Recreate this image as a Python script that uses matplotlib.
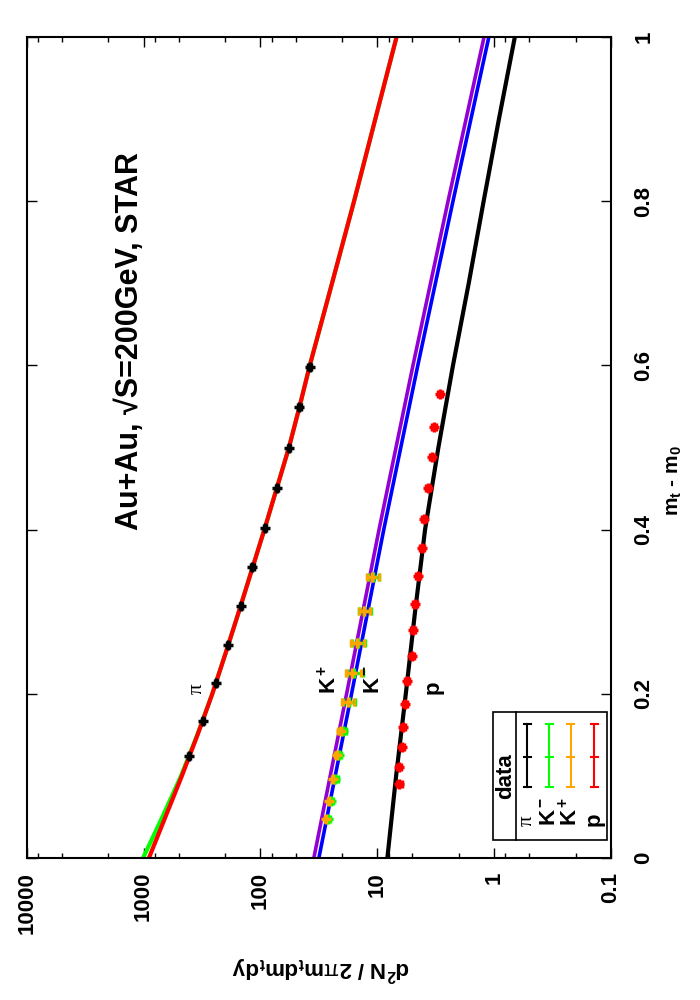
import matplotlib.pyplot as plt
from matplotlib.ticker import LogLocator, NullFormatter, FixedLocator
from matplotlib.lines import Line2D
from matplotlib.patches import Rectangle

plt.rcParams['font.family'] = ['Liberation Sans', 'DejaVu Sans']
plt.rcParams['mathtext.fontset'] = 'custom'
plt.rcParams['mathtext.rm'] = 'Liberation Sans'
plt.rcParams['mathtext.bf'] = 'Liberation Sans:bold'
plt.rcParams['mathtext.it'] = 'Liberation Sans:italic'

# Au+Au 200 GeV STAR spectra, m_t - m_0 (GeV) vs d2N/2pi mt dmt dy
# pion data
pi_m = [0.124, 0.167, 0.213, 0.259, 0.307, 0.354, 0.402, 0.451, 0.500, 0.549, 0.598]
pi_val = [409, 308, 240, 188, 148, 117, 91.5, 72.3, 57.0, 46.4, 37.8]
pi_err = [8, 6, 5, 4, 3, 2.5, 2, 1.6, 1.3, 1.1, 1.0]

# kaon data
k_m = [0.047, 0.070, 0.096, 0.125, 0.155, 0.190, 0.225, 0.262, 0.301, 0.342]
kp_val = [27.2, 25.8, 23.8, 22.3, 20.6, 17.9, 16.3, 14.9, 13.0, 11.0]
kp_err = [0.8, 0.8, 0.7, 0.7, 1.0, 2.1, 2.4, 2.0, 1.4, 1.3]
km_val = [26.5, 25.0, 22.8, 21.4, 19.8, 17.5, 15.8, 14.7, 12.9, 10.9]
km_err = [1.0, 1.0, 1.0, 1.0, 1.2, 2.0, 2.5, 1.9, 1.5, 1.2]

# proton data
p_m = [0.090, 0.111, 0.135, 0.160, 0.187, 0.216, 0.246, 0.278, 0.309, 0.344,
       0.377, 0.413, 0.451, 0.488, 0.525, 0.565]
p_val = [6.50, 6.53, 6.19, 6.00, 5.81, 5.55, 5.09, 4.96, 4.74, 4.47,
         4.18, 3.97, 3.69, 3.39, 3.26, 2.92]
p_err = [0.3, 0.3, 0.25, 0.25, 0.2, 0.2, 0.2, 0.2, 0.2, 0.18,
         0.17, 0.16, 0.15, 0.14, 0.14, 0.13]

# model curves
pi_curve_m = [0, 0.05, 0.1, 0.15, 0.2, 0.25, 0.3, 0.35, 0.4, 0.45, 0.5, 0.55, 0.6, 0.7, 0.8, 0.9, 1.0]
pi_curve_red = [900, 650, 470, 345, 258, 198, 153, 119, 92.5, 72.6, 57.0, 46.2, 37.8, 24.4, 15.8, 10.4, 6.84]
pi_curve_green = [1010, 690, 478, 347, 258, 198, 153, 119, 92.5, 72.6, 57.0, 46.2, 37.8, 24.4, 15.8, 10.4, 6.84]

k_curve_m = [0, 0.2, 0.4, 0.6, 0.8, 1.0]
kp_curve = [34.9, 18.3, 9.66, 4.95, 2.48, 1.22]
km_curve = [31.6, 16.6, 8.8, 4.5, 2.25, 1.11]

p_curve_m = [0, 0.1, 0.2, 0.3, 0.4, 0.5, 0.6, 0.7, 0.8, 0.9, 1.0]
p_curve = [8.2, 6.9, 5.7, 4.75, 3.9, 3.0, 2.25, 1.65, 1.23, 0.91, 0.665]

val_ticks = [10000, 1000, 100, 10, 1, 0.1]
val_labels = ['10000', '1000', '100', '10', '1', '0.1']
m_ticks = [0, 0.2, 0.4, 0.6, 0.8, 1.0]
m_labels = ['0', '0.2', '0.4', '0.6', '0.8', '1']

W, H = 700, 1000


def fp(x, y):
    # pixel position -> figure fraction
    return x / W, 1 - y / H


fig = plt.figure(figsize=(7, 10), dpi=100)
ax = fig.add_axes([26.7 / W, 1 - 858 / H, (611 - 26.7) / W, (858 - 37) / H])

# the whole gnuplot graph is turned on its side: value axis horizontal, m_t vertical
ax.plot(pi_curve_green, pi_curve_m, color='#00ff00', lw=3, zorder=2)
ax.plot(pi_curve_red, pi_curve_m, color='#ff0000', lw=3, zorder=2)
ax.plot(kp_curve, k_curve_m, color='#9400d3', lw=2.6, zorder=2)
ax.plot(km_curve, k_curve_m, color='#0000ff', lw=2.6, zorder=2)
ax.plot(p_curve, p_curve_m, color='black', lw=3, zorder=2)

ebkw = dict(fmt='+', ms=7, mew=2.5, elinewidth=2, capsize=3, capthick=2, zorder=3)
ax.errorbar(pi_val, pi_m, xerr=pi_err, color='black', **ebkw)
ax.errorbar(km_val, k_m, xerr=km_err, color='#00ff00', **ebkw)
ax.errorbar(kp_val, k_m, xerr=kp_err, color='#ffa500', **ebkw)
ax.errorbar(p_val, p_m, xerr=p_err, color='#ff0000', **ebkw)

ax.set_xscale('log')
ax.set_xlim(1e4, 0.1)
ax.set_ylim(0, 1)

ax.xaxis.set_major_locator(FixedLocator(val_ticks))
ax.set_xticklabels(val_labels)
ax.xaxis.set_minor_locator(LogLocator(base=10, subs=(2, 5, 8)))
ax.xaxis.set_minor_formatter(NullFormatter())
ax.set_yticks(m_ticks)
ax.set_yticklabels(m_labels)

ax.tick_params(axis='x', which='major', direction='in', top=True, bottom=True,
               length=7, width=1, labelrotation=90, labelsize=16, pad=10)
ax.tick_params(axis='x', which='minor', direction='in', top=True, bottom=True,
               length=3.5, width=1)
ax.tick_params(axis='y', which='major', direction='in', left=True, right=True,
               labelleft=False, labelright=True, length=7, width=1,
               labelrotation=90, labelsize=16, pad=16)
for lbl in ax.get_xticklabels() + ax.get_yticklabels():
    lbl.set_fontweight('bold')
for lbl in ax.get_yticklabels():
    lbl.set_va('center')
for s in ax.spines.values():
    s.set_linewidth(1.5)

# labels in the plot
ax.text(1300, 0.4, 'Au+Au, \u221aS=200GeV, STAR', rotation=90, ha='center',
        va='bottom', fontsize=22, fontweight='bold')
ax.text(350, 0.2, '\u03c0', rotation=90, ha='center', va='bottom', fontsize=15,
        family='Liberation Serif')
ax.text(25.5, 0.2, r'$\mathbf{K^+}$', rotation=90, ha='center', va='bottom', fontsize=16)
ax.text(10.8, 0.2, r'$\mathbf{K^-}$', rotation=90, ha='center', va='bottom', fontsize=16)
ax.text(3.3, 0.2, 'p', rotation=90, ha='center', va='bottom', fontsize=16,
        fontweight='bold')

# axis titles
fig.text(*fp(674, 480), r'$\mathbf{m_t}$ - $\mathbf{m_0}$', rotation=90, ha='center',
         va='center', fontsize=15, fontweight='bold')
fig.text(*fp(321, 968), r'$\mathbf{d^2N\ /\ 2}\mathrm{\pi}\mathbf{m_tdm_tdy}$',
         rotation=180, ha='center', va='center', fontsize=16)

# key, drawn by hand because it is rotated too
x0, y0 = fp(493.3, 840)
x1, y1 = fp(606.7, 711.7)
fig.add_artist(Rectangle((x0, y0), x1 - x0, y1 - y0, transform=fig.transFigure,
                         fill=False, lw=1.2, ec='black'))
fig.add_artist(Line2D([516 / W, 516 / W], [y0, y1], transform=fig.transFigure,
                      color='black', lw=1.2))
fig.text(*fp(505.5, 776), 'data', rotation=90, ha='center', va='center',
         fontsize=16, fontweight='bold')

key_x = [527.3, 549.3, 570.7, 594.3]
key_colors = ['black', '#00ff00', '#ffa500', '#ff0000']
key_labels = ['\u03c0', r'$\mathbf{K^-}$', r'$\mathbf{K^+}$', 'p']
for kx, kc, kl in zip(key_x, key_colors, key_labels):
    fig.add_artist(Line2D([kx / W, kx / W], [1 - 724 / H, 1 - 787.3 / H],
                          transform=fig.transFigure, color=kc, lw=1.5))
    for cy in (724, 756.7, 787.3):
        fig.add_artist(Line2D([(kx - 3.5) / W, (kx + 3.5) / W], [1 - cy / H, 1 - cy / H],
                              transform=fig.transFigure, color=kc, lw=1.5))
    if kl == '\u03c0':
        fig.text(*fp(kx, 826), kl, rotation=90, rotation_mode='anchor', ha='left',
                 va='center', fontsize=15, family='Liberation Serif')
    else:
        fig.text(*fp(kx, 826), kl, rotation=90, rotation_mode='anchor', ha='left',
                 va='center', fontsize=16, fontweight='bold')

fig.savefig('out.png', dpi=100)
